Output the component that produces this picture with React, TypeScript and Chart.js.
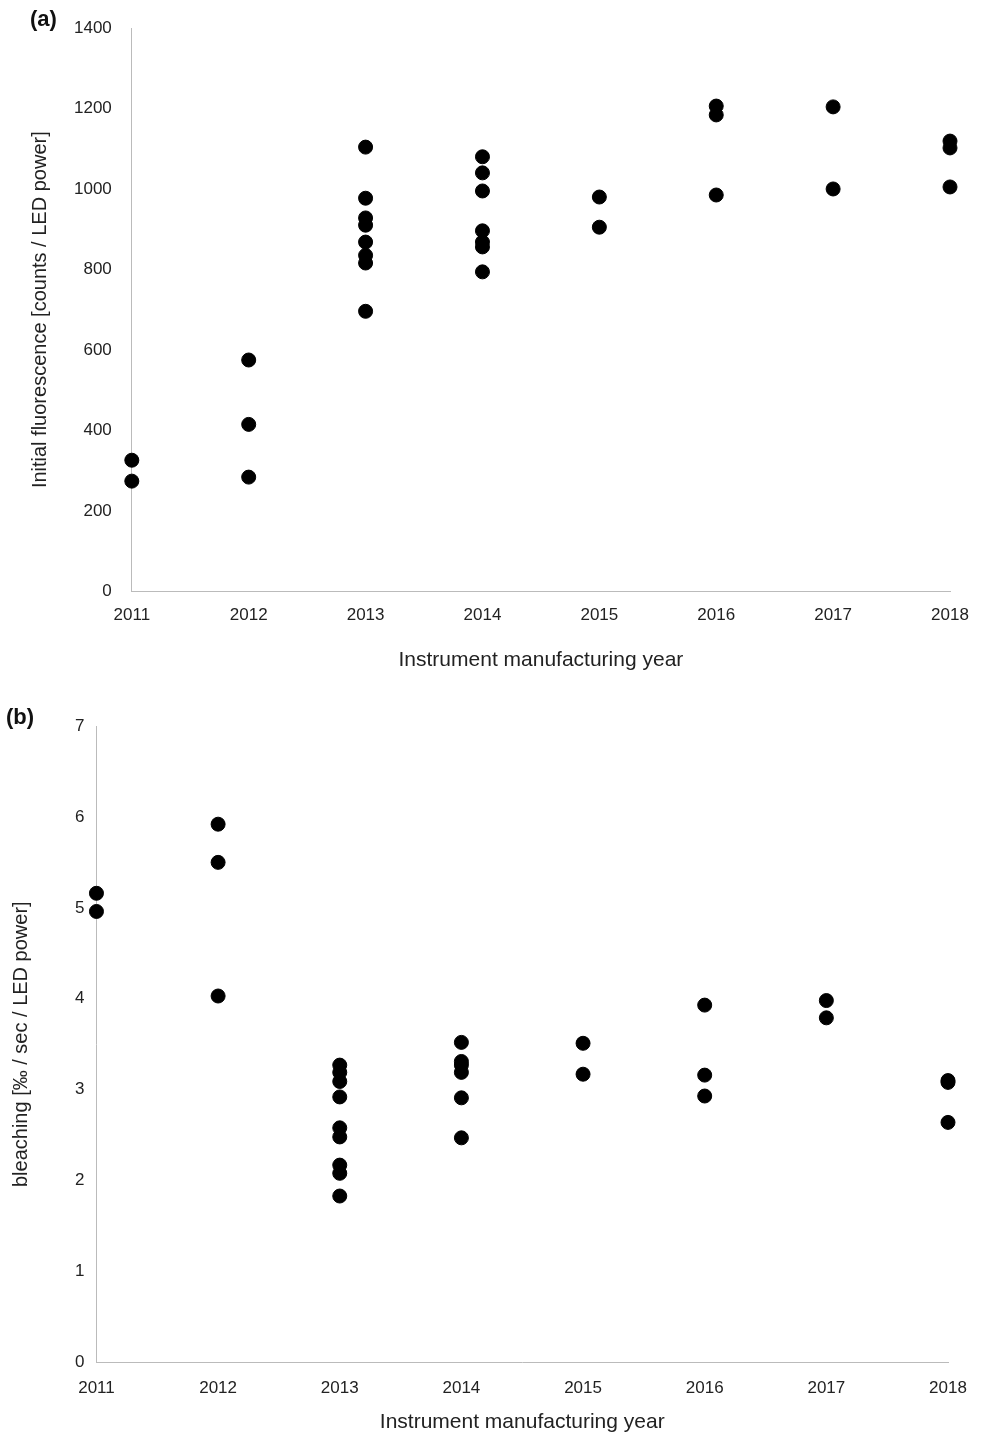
import React, { useEffect, useRef } from 'react'
import { Chart, registerables } from 'chart.js'

Chart.register(...registerables)

const years = [2011, 2012, 2013, 2014, 2015, 2016, 2017, 2018]

const fluorescence: number[][] = [
  [326, 274],
  [575, 415, 284],
  [1104, 977, 928, 910, 868, 835, 816, 696],
  [1080, 1040, 995, 896, 868, 856, 794],
  [980, 905],
  [1206, 1184, 985],
  [1204, 1000],
  [1119, 1102, 1005],
]

const bleaching: number[][] = [
  [5.16, 4.96],
  [5.92, 5.5, 4.03],
  [3.27, 3.19, 3.09, 2.92, 2.58, 2.48, 2.17, 2.08, 1.83],
  [3.52, 3.31, 3.27, 3.19, 2.91, 2.47],
  [3.51, 3.17],
  [3.93, 3.16, 2.93],
  [3.98, 3.79],
  [3.1, 3.08, 2.64],
]

const toPoints = (vals: number[][]) =>
  vals.flatMap((group, i) => group.map((v) => ({ x: years[i], y: v })))

const font = 'Arial, "Liberation Sans", sans-serif'

const makeConfig = (
  vals: number[][],
  yMax: number,
  yStep: number,
  yTitle: string,
  yTickPad: number,
  yTitlePad: number,
  xTickPad: number,
  titlePad: number,
  pad: { left: number; right: number; top: number; bottom: number }
): any => ({
  type: 'scatter',
  data: {
    datasets: [
      {
        data: toPoints(vals),
        backgroundColor: '#000',
        borderColor: '#000',
        pointRadius: 7,
        pointHoverRadius: 7,
        clip: false,
      },
    ],
  },
  options: {
    animation: false,
    responsive: false,
    layout: { padding: pad },
    plugins: { legend: { display: false }, tooltip: { enabled: false } },
    scales: {
      x: {
        type: 'linear',
        min: 2011,
        max: 2018,
        grid: { display: false, tickLength: 6, tickColor: '#bbb' },
        border: { color: '#bbb' },
        ticks: { stepSize: 1, padding: xTickPad, color: '#222', font: { family: font, size: 17 }, callback: (v: number) => String(v) },
        title: { display: true, text: 'Instrument manufacturing year', color: '#222', font: { family: font, size: 21 }, padding: { top: titlePad } },
      },
      y: {
        min: 0,
        max: yMax,
        grid: { display: false, tickLength: 6, tickColor: '#bbb' },
        border: { color: '#bbb' },
        ticks: { stepSize: yStep, color: '#222', font: { family: font, size: 17 }, padding: yTickPad, callback: (v: number) => String(v) },
        title: { display: true, text: yTitle, color: '#222', font: { family: font, size: 20 }, padding: { bottom: yTitlePad } },
      },
    },
  },
})

export default function App() {
  const refA = useRef<HTMLCanvasElement>(null)
  const refB = useRef<HTMLCanvasElement>(null)

  useEffect(() => {
    document.body.style.margin = '0'
    const a = new Chart(
      refA.current!,
      makeConfig(fluorescence, 1400, 200, 'Initial fluorescence [counts / LED power]', 14, 8, 8, 14, { left: 24, right: 38, top: 28, bottom: 7 })
    )
    const b = new Chart(
      refB.current!,
      makeConfig(bleaching, 7, 1, 'bleaching [‰ / sec / LED power]', 6, 36, 10, 1, { left: 5, right: 40, top: 42, bottom: 0 })
    )
    return () => {
      a.destroy()
      b.destroy()
    }
  }, [])

  const label: React.CSSProperties = { position: 'absolute', fontFamily: font, fontWeight: 'bold', fontSize: 22, color: '#111' }

  return (
    <div style={{ position: 'relative', width: 988, height: 1439, background: '#fff' }}>
      <canvas ref={refA} width={988} height={684} style={{ position: 'absolute', left: 0, top: 0 }} />
      <canvas ref={refB} width={988} height={755} style={{ position: 'absolute', left: 0, top: 684 }} />
      <div style={{ ...label, left: 30, top: 6 }}>(a)</div>
      <div style={{ ...label, left: 6, top: 704 }}>(b)</div>
    </div>
  )
}
